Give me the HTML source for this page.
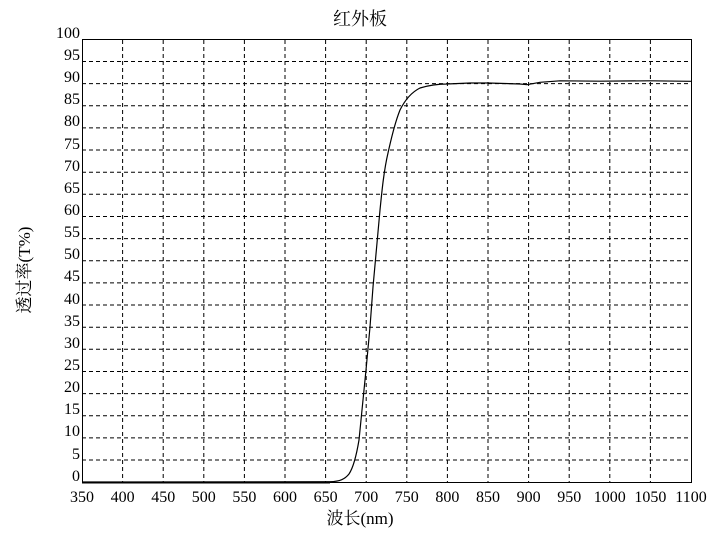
<!DOCTYPE html>
<html><head><meta charset="utf-8"><style>
body{margin:0;background:#fff;}
svg{display:block;font-family:"Liberation Serif","Noto Serif CJK SC",serif;}
</style></head><body>
<svg width="720" height="539" viewBox="0 0 720 539" xmlns="http://www.w3.org/2000/svg">
<rect width="720" height="539" fill="#fff"/>
<g stroke="#000" stroke-width="1" stroke-dasharray="4,3">
<line x1="122.6" y1="40" x2="122.6" y2="482"/><line x1="163.2" y1="40" x2="163.2" y2="482"/><line x1="203.8" y1="40" x2="203.8" y2="482"/><line x1="244.4" y1="40" x2="244.4" y2="482"/><line x1="285" y1="40" x2="285" y2="482"/><line x1="325.6" y1="40" x2="325.6" y2="482"/><line x1="366.2" y1="40" x2="366.2" y2="482"/><line x1="406.8" y1="40" x2="406.8" y2="482"/><line x1="447.4" y1="40" x2="447.4" y2="482"/><line x1="488" y1="40" x2="488" y2="482"/><line x1="528.6" y1="40" x2="528.6" y2="482"/><line x1="569.2" y1="40" x2="569.2" y2="482"/><line x1="609.8" y1="40" x2="609.8" y2="482"/><line x1="650.4" y1="40" x2="650.4" y2="482"/>
<line x1="82" y1="61.5" x2="691" y2="61.5"/><line x1="82" y1="83.6" x2="691" y2="83.6"/><line x1="82" y1="105.8" x2="691" y2="105.8"/><line x1="82" y1="127.9" x2="691" y2="127.9"/><line x1="82" y1="150" x2="691" y2="150"/><line x1="82" y1="172.2" x2="691" y2="172.2"/><line x1="82" y1="194.3" x2="691" y2="194.3"/><line x1="82" y1="216.5" x2="691" y2="216.5"/><line x1="82" y1="238.6" x2="691" y2="238.6"/><line x1="82" y1="260.8" x2="691" y2="260.8"/><line x1="82" y1="282.9" x2="691" y2="282.9"/><line x1="82" y1="305" x2="691" y2="305"/><line x1="82" y1="327.2" x2="691" y2="327.2"/><line x1="82" y1="349.3" x2="691" y2="349.3"/><line x1="82" y1="371.5" x2="691" y2="371.5"/><line x1="82" y1="393.6" x2="691" y2="393.6"/><line x1="82" y1="415.8" x2="691" y2="415.8"/><line x1="82" y1="437.9" x2="691" y2="437.9"/><line x1="82" y1="460" x2="691" y2="460"/>
</g>
<rect x="82.5" y="39.5" width="609" height="443" fill="none" stroke="#000" stroke-width="1"/>
<path fill="none" stroke="#000" stroke-width="1.2" d="M82,482 L330,481.7 C340,481.5 345,479 349,474 C353,468 356,458 359,440 L362,410 L366,370 L370,327 L373,287 L377,243 L380,210 C382,190 384,170 388,153 C391,140 394,125 400,110 C405,100 412,92 420,88 C430,85 440,84 447,84 L470,83 L488,83 L520,84 L527,84.7 L540,82.3 L560,80.8 L600,81.2 L650,80.8 L691,81.3"/>
<line x1="82" y1="482.5" x2="330" y2="482.5" stroke="#000" stroke-width="2"/>
<g font-size="16" text-anchor="end">
<text x="80" y="38">100</text><text x="80" y="60">95</text><text x="80" y="82">90</text><text x="80" y="104">85</text><text x="80" y="126">80</text><text x="80" y="149">75</text><text x="80" y="171">70</text><text x="80" y="193">65</text><text x="80" y="215">60</text><text x="80" y="237">55</text><text x="80" y="259">50</text><text x="80" y="281">45</text><text x="80" y="304">40</text><text x="80" y="326">35</text><text x="80" y="348">30</text><text x="80" y="370">25</text><text x="80" y="392">20</text><text x="80" y="414">15</text><text x="80" y="436">10</text><text x="80" y="459">5</text><text x="80" y="481">0</text>
</g>
<g font-size="16" text-anchor="middle">
<text x="82" y="502">350</text><text x="122.6" y="502">400</text><text x="163.2" y="502">450</text><text x="203.8" y="502">500</text><text x="244.4" y="502">550</text><text x="285" y="502">600</text><text x="325.6" y="502">650</text><text x="366.2" y="502">700</text><text x="406.8" y="502">750</text><text x="447.4" y="502">800</text><text x="488" y="502">850</text><text x="528.6" y="502">900</text><text x="569.2" y="502">950</text><text x="609.8" y="502">1000</text><text x="650.4" y="502">1050</text><text x="691" y="502">1100</text>
</g>
<text x="360" y="25" font-size="18" text-anchor="middle">红外板</text>
<text x="360" y="524" font-size="17" text-anchor="middle">波长(nm)</text>
<text x="0" y="0" font-size="17" text-anchor="middle" transform="translate(30,270) rotate(-90)">透过率(T%)</text>
</svg>
</body></html>
